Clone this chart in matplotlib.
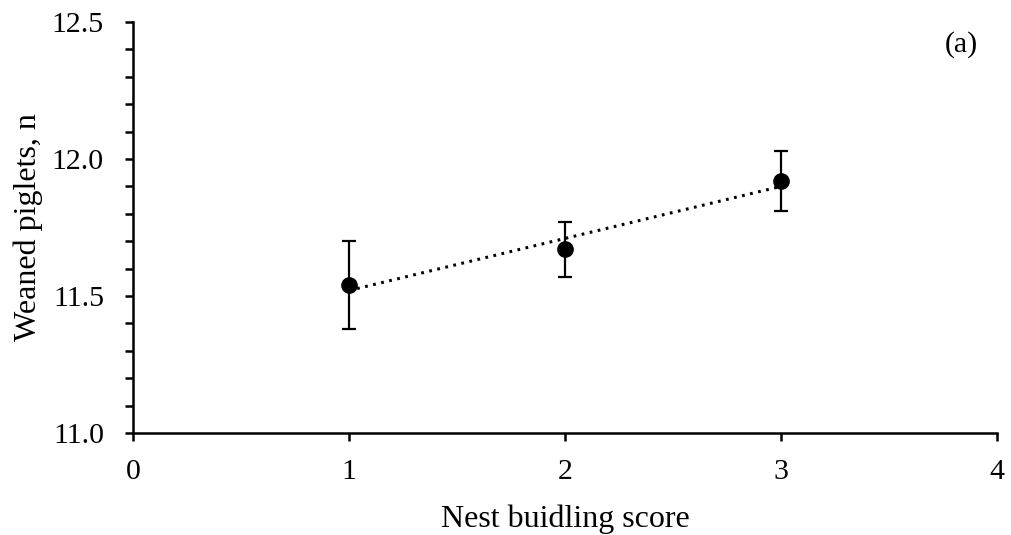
import matplotlib
matplotlib.use("Agg")
import matplotlib.pyplot as plt
import numpy as np
from matplotlib.ticker import MultipleLocator, FormatStrFormatter

scores = [1, 2, 3]
weaned = [11.54, 11.67, 11.92]
errors = [0.16, 0.10, 0.11]

plt.rcParams['font.family'] = ['Liberation Serif', 'DejaVu Serif']

fig = plt.figure(figsize=(10.11, 5.35), dpi=100)
ax = fig.add_axes([0.1316, 0.1907, 0.8546, 0.7682])

ax.errorbar(scores, weaned, yerr=errors, fmt='o', color='black', markersize=11,
            ecolor='black', elinewidth=1.6, capsize=5, capthick=1.6, zorder=3)
coef = np.polyfit(scores, weaned, 1)
xs = np.array([scores[0], scores[-1]])
ax.plot(xs, np.polyval(coef, xs), linestyle=(0, (0.9, 1.8)), color='black', linewidth=2.2, zorder=2)

ax.set_xlim(0, 4)
ax.set_ylim(11.0, 12.5)
ax.xaxis.set_major_locator(MultipleLocator(1))
ax.yaxis.set_major_locator(MultipleLocator(0.5))
ax.yaxis.set_minor_locator(MultipleLocator(0.1))
ax.yaxis.set_major_formatter(FormatStrFormatter('%.1f'))
for s in ['top', 'right']:
    ax.spines[s].set_visible(False)
for s in ['left', 'bottom']:
    ax.spines[s].set_linewidth(1.8)
ax.tick_params(axis='both', which='major', direction='out', length=6, width=1.8, labelsize=21.5)
ax.tick_params(axis='x', which='major', pad=13)
ax.tick_params(axis='y', which='major', pad=15)
ax.tick_params(axis='y', which='minor', direction='out', length=6, width=1.8)
ax.set_xlabel('Nest buidling score', fontsize=23, labelpad=14)
ax.set_ylabel('Weaned piglets, n', fontsize=23, labelpad=6)
ax.text(0.959, 0.944, '(a)', transform=ax.transAxes, fontsize=21.5, ha='center', va='center')

fig.savefig('out.png', dpi=100)
